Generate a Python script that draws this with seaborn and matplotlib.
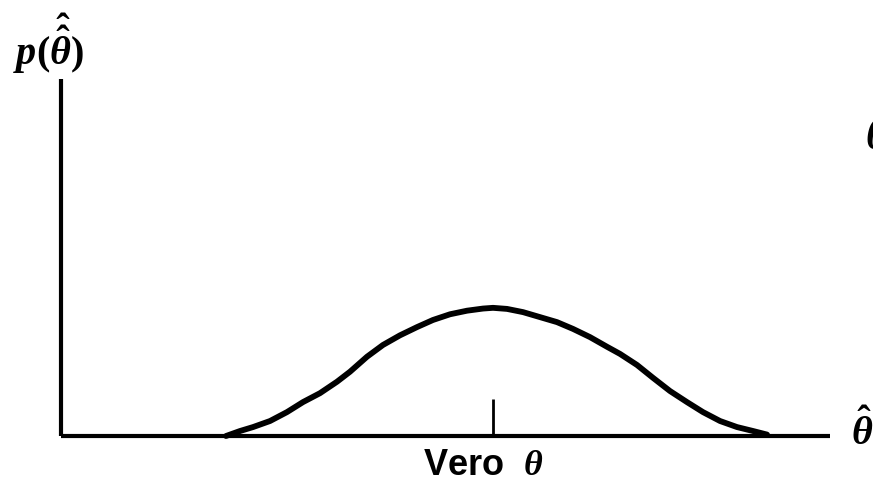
import matplotlib
matplotlib.use("Agg")
import matplotlib.pyplot as plt
import matplotlib.transforms as mtransforms
import seaborn as sns
import pandas as pd

# Sampling distribution of the estimator (arbitrary units)
theta_hat = [2.146, 2.328, 2.497, 2.718, 2.939, 3.147, 3.368, 3.589, 3.758,
             3.979, 4.187, 4.408, 4.629, 4.837, 5.059, 5.280, 5.488, 5.618,
             5.800, 6.008, 6.229, 6.450, 6.658, 6.879, 7.100, 7.269, 7.490,
             7.698, 7.919, 8.140, 8.348, 8.570, 8.791, 8.999, 9.181]
density = [0.00, 0.14, 0.25, 0.42, 0.67, 0.95, 1.20, 1.52, 1.80,
           2.22, 2.55, 2.82, 3.05, 3.25, 3.41, 3.51, 3.57, 3.59,
           3.56, 3.47, 3.33, 3.19, 3.00, 2.77, 2.50, 2.30, 1.99,
           1.63, 1.26, 0.95, 0.67, 0.42, 0.25, 0.14, 0.04]
true_theta = 5.62
tick_label = "Vero  $\\mathbfit{\\theta}$"
y_label = "$\\mathbfit{p}(\\hat{\\hat{\\mathbfit{\\theta}}})$"
x_label = "$\\hat{\\mathbfit{\\theta}}$"

sns.set_theme(style="white")
plt.rcParams["font.family"] = ["Liberation Sans", "DejaVu Sans"]
plt.rcParams["mathtext.fontset"] = "custom"
plt.rcParams["mathtext.it"] = "Liberation Serif:italic:bold"
plt.rcParams["mathtext.bfit"] = "Liberation Serif:italic:bold"
plt.rcParams["mathtext.rm"] = "Liberation Serif:bold"
plt.rcParams["mathtext.bf"] = "Liberation Serif:bold"

W, H = 873, 485
fig = plt.figure(figsize=(W / 100, H / 100), dpi=100)
ax = fig.add_axes([61 / W, (H - 437) / H, 769 / W, 357 / H])

df = pd.DataFrame({"theta_hat": theta_hat, "density": density})
sns.lineplot(data=df, x="theta_hat", y="density", ax=ax, color="black",
             linewidth=4.2, solid_capstyle="round", solid_joinstyle="round")
for ln in ax.lines:
    ln.set_clip_on(False)

ax.set_xlim(0, 10)
ax.set_ylim(0, 10)
for side in ("top", "right"):
    ax.spines[side].set_visible(False)
for side in ("left", "bottom"):
    ax.spines[side].set_linewidth(3)
    ax.spines[side].set_color("black")
    ax.spines[side].set_capstyle("butt")

ax.set_yticks([])
ax.set_xticks([true_theta])
ax.set_xticklabels([tick_label], fontsize=26, fontweight="bold")
ax.tick_params(axis="x", which="major", bottom=True, direction="in",
               length=27, width=2, color="black", pad=8, labelcolor="black")
shift = mtransforms.ScaledTranslation(-10 / 100, 0, fig.dpi_scale_trans)
for lab in ax.get_xticklabels():
    lab.set_transform(lab.get_transform() + shift)
ax.set_xlabel("")
ax.set_ylabel("")

# Axis titles at the ends of the axes
fig.text(13 / W, 1 - 65 / H, y_label, fontsize=29, color="black",
         ha="left", va="baseline")
fig.text(851 / W, 1 - 445 / H, x_label, fontsize=29, color="black",
         ha="left", va="baseline")
fig.text(865 / W, 1 - 149 / H, "$\\mathbfit{\\theta}$", fontsize=30,
         color="black", ha="left", va="baseline")

fig.savefig("out.png", dpi=100, facecolor="white")
